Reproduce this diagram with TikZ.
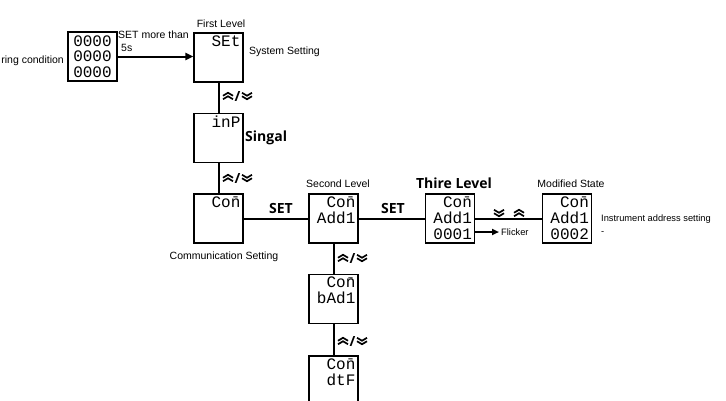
\documentclass[tikz,border=0pt]{standalone}
\usepackage{fontspec}
\setmainfont{Liberation Sans}
\newfontfamily\boldsans{Open Sans}
\newfontfamily\segfont{Liberation Mono}
\usetikzlibrary{arrows.meta}

\tikzset{
    disp/.style={draw,line width=1.2pt,minimum width=49pt,minimum height=49pt,inner sep=0pt},
    segtxt/.style={anchor=north east,inner sep=0pt,align=right,font=\segfont\fontsize{16}{16}\selectfont},
    lbl/.style={inner sep=0pt,font=\fontsize{10.5}{13}\selectfont},
    slbl/.style={inner sep=0pt,font=\fontsize{9.3}{11}\selectfont},
    blbl/.style={inner sep=0pt,font=\boldsans\bfseries\fontsize{14}{16}\selectfont},
    wire/.style={line width=2pt},
    chev/.style={line width=1.7pt,line join=miter,line cap=butt},
    chevup/.pic={\draw[chev] (-5,-0.25)--(0,-3.25)--(5,-0.25);
                 \draw[chev] (-5,3.25)--(0,0.25)--(5,3.25);},
    chevdn/.pic={\draw[chev] (-5,0.25)--(0,3.25)--(5,0.25);
                 \draw[chev] (-5,-3.25)--(0,-0.25)--(5,-3.25);}
}
% up/down keys beside a vertical wire: name, x of slash, y
\newcommand{\updn}[3]{%
    \pic at (#2-9.5,#3) {chevup};
    \node[blbl] (#1) at (#2,#3) {/};
    \pic at (#2+9.5,#3) {chevdn};}

\begin{document}
\begin{tikzpicture}[x=1pt,y=-1pt]
    \useasboundingbox (0,0) rectangle (726,400);
    % start screen and first level
    \node[lbl,anchor=east] (moncond) at (64,61) {ring condition};
    \node[disp,font=\segfont\fontsize{16}{15.5}\selectfont,align=center] (wait) at (92.5,56.5) {0000\\0000\\0000};
    \node[lbl,anchor=west,align=left] (settxt) at (118,41.5) {SET more than\\\hspace*{3pt}5s};
    \node[disp] (setb) at (218.5,57.5) {};
    \node[segtxt] (setbv) at ([shift={(-3,3)}]setb.north east) {SEt};
    \node[lbl] (firstlv) at (221,24) {First Level};
    \node[lbl,anchor=west] (systxt) at (249,52) {System Setting};
    \node[disp] (inp) at (218.5,138) {};
    \node[segtxt] (inpv) at ([shift={(-3,3)}]inp.north east) {inP};
    \node[blbl,anchor=west] (singal) at (245,138) {Singal};
    \node[disp] (com) at (218.5,218.5) {};
    \node[segtxt] (comv) at ([shift={(-3,3)}]com.north east) {Co\=n};
    \node[lbl] (commtxt) at (224,257) {Communication Setting};
    % second level
    \node[disp] (add) at (333.5,218.5) {};
    \node[segtxt] (addv) at ([shift={(-3,3)}]add.north east) {Co\=n\\Add1};
    \node[lbl] (secondlv) at (338,184) {Second Level};
    \node[disp] (bad) at (333.5,299) {};
    \node[segtxt] (badv) at ([shift={(-3,3)}]bad.north east) {Co\=n\\bAd1};
    \node[disp] (dtf) at (333.5,380.5) {};
    \node[segtxt] (dtfv) at ([shift={(-3,3)}]dtf.north east) {Co\=n\\dtF};
    % third level and modified state
    \node[disp] (third) at (450,218.5) {};
    \node[segtxt] (thirdv) at ([shift={(-3,3)}]third.north east) {Co\=n\\Add1\\0001};
    \node[blbl] (thirdlv) at (454,183) {Thire Level};
    \node[slbl,anchor=west] (flick) at (501,232) {Flicker};
    \node[disp] (modi) at (567,218.5) {};
    \node[segtxt] (modiv) at ([shift={(-3,3)}]modi.north east) {Co\=n\\Add1\\0002};
    \node[lbl] (modlv) at (571,184) {Modified State};
    \node[slbl,anchor=west] (insttxt) at (601,219) {Instrument address setting};
    \node[slbl,anchor=west] (dash) at (601,233) {-};
    \node[blbl] (set1) at (281,208) {SET};
    \node[blbl] (set2) at (393,208) {SET};

    \draw[wire,-{Triangle[length=8pt,width=7pt]}] (wait.east) -- (wait.east -| setb.west);
    \draw[wire] (setb) -- (inp);
    \draw[wire] (inp) -- (com);
    \draw[wire] (com) -- (add);
    \draw[wire] (add) -- (third);
    \draw[wire] (third) -- (modi);
    \draw[wire] (add) -- (bad);
    \draw[wire] (bad) -- (dtf);
    \draw[wire,-{Triangle[length=7pt,width=6pt]},shorten >=2pt] (third.east |- flick.west) -- (flick.west);

    \updn{ud1}{237.5}{96}
    \updn{ud2}{237.5}{178}
    \updn{ud3}{352.5}{258}
    \updn{ud4}{352.5}{341}
    \pic at (499,213) {chevdn};
    \pic at (519,213) {chevup};
\end{tikzpicture}
\end{document}
